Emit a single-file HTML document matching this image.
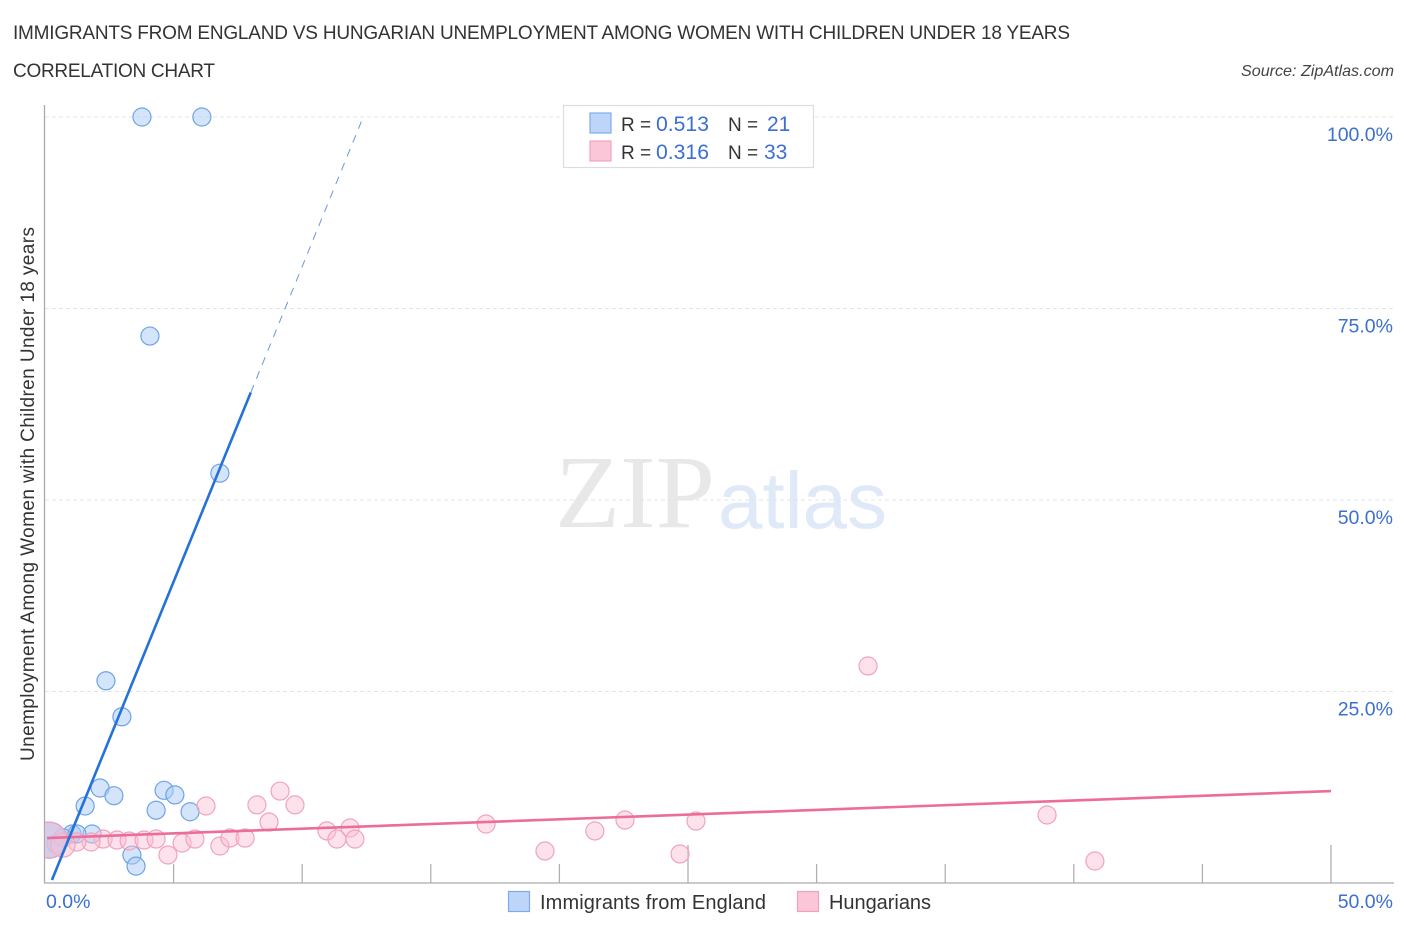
<!DOCTYPE html>
<html lang="en">
<head>
<meta charset="utf-8">
<title>Immigrants from England vs Hungarian Unemployment Correlation Chart</title>
<style>
html,body{margin:0;padding:0;background:#fff;}
body{width:1406px;height:930px;overflow:hidden;}
svg{display:block;font-family:"Liberation Sans",sans-serif;}
</style>
</head>
<body>
<svg id="chart" width="1406" height="930" viewBox="0 0 1406 930" xmlns="http://www.w3.org/2000/svg">
  <defs>
    <clipPath id="plot-clip"><rect x="45" y="100" width="1350" height="783"/></clipPath>
  </defs>
  <rect x="0" y="0" width="1406" height="930" fill="#ffffff"/>

  <text x="13" y="39" font-size="19" fill="#333333" textLength="1057" lengthAdjust="spacing">IMMIGRANTS FROM ENGLAND VS HUNGARIAN UNEMPLOYMENT AMONG WOMEN WITH CHILDREN UNDER 18 YEARS</text>
  <text x="13" y="77" font-size="19" fill="#333333" textLength="202" lengthAdjust="spacing">CORRELATION CHART</text>
  <text x="1241" y="76" font-size="16" font-style="italic" fill="#444444" textLength="153" lengthAdjust="spacingAndGlyphs">Source: ZipAtlas.com</text>

  <g>
    <text x="555" y="527" font-family="'Liberation Serif',serif" font-size="104" fill="#e8e8e8" textLength="160" lengthAdjust="spacingAndGlyphs">ZIP</text>
    <text x="718" y="528" font-size="80" fill="#dfe9f8" textLength="169" lengthAdjust="spacingAndGlyphs">atlas</text>
  </g>

  <g id="grid"></g>
  <g id="axes"></g>
  <g id="points" clip-path="url(#plot-clip)"></g>
  <g id="trends"></g>
  <g id="labels"></g>

  <text transform="translate(34,761) rotate(-90)" font-size="19" fill="#333333" textLength="534" lengthAdjust="spacing">Unemployment Among Women with Children Under 18 years</text>

  <g>
    <rect x="563.5" y="105.5" width="250" height="62" fill="#ffffff" stroke="#dddddd" stroke-width="1.2"/>
    <rect x="590" y="113" width="21" height="20" fill="#bcd5f9" stroke="#7fabe8" stroke-width="1.2"/>
    <text x="621" y="131" font-size="19" fill="#333333">R =</text>
    <text x="656" y="131" font-size="21" fill="#3b6fd0" textLength="53" lengthAdjust="spacingAndGlyphs">0.513</text>
    <text x="728" y="131" font-size="19" fill="#333333">N =</text>
    <text x="767" y="131" font-size="21" fill="#3b6fd0">21</text>
    <rect x="590" y="141" width="21" height="20" fill="#fbc6d8" stroke="#f0a3bd" stroke-width="1.2"/>
    <text x="621" y="159" font-size="19" fill="#333333">R =</text>
    <text x="656" y="159" font-size="21" fill="#3b6fd0" textLength="53" lengthAdjust="spacingAndGlyphs">0.316</text>
    <text x="728" y="159" font-size="19" fill="#333333">N =</text>
    <text x="764" y="159" font-size="21" fill="#3b6fd0">33</text>
  </g>

  <g>
    <rect x="508.5" y="891.5" width="21" height="20" fill="#bcd5f9" stroke="#7fabe8" stroke-width="1.2"/>
    <text x="540" y="909" font-size="20" fill="#333333" textLength="226" lengthAdjust="spacing">Immigrants from England</text>
    <rect x="797.5" y="891.5" width="21" height="20" fill="#fbc6d8" stroke="#f0a3bd" stroke-width="1.2"/>
    <text x="829" y="909" font-size="20" fill="#333333" textLength="102" lengthAdjust="spacing">Hungarians</text>
  </g>
</svg>

<script>
var yTickValues = [25, 50, 75, 100];
var yTickLabels = ['25.0%', '50.0%', '75.0%', '100.0%'];
var xTickValues = [0, 5, 10, 15, 20, 25, 30, 35, 40, 45, 50];
var xEndValues = [0, 50];
var xEndLabels = ['0.0%', '50.0%'];

var englandX = [3.77, 6.10, 4.08, 6.80, 2.37, 2.99, 2.14, 2.68, 1.56, 4.63, 5.05, 4.32, 5.64, 1.83, 1.05, 3.38, 3.54, 0.43, 0.70, 1.24, 0.16];
var englandY = [100, 100, 71.4, 53.5, 26.4, 21.7, 12.4, 11.4, 10.05, 12.1, 11.5, 9.5, 9.3, 6.4, 6.4, 3.65, 2.2, 5.1, 5.9, 6.4, 5.6];
var englandWeight = [1, 1, 1, 1, 1, 1, 1, 1, 1, 1, 1, 1, 1, 1, 1, 1, 1, 1, 1, 1, 4];

var hungarianX = [6.26, 8.24, 9.14, 9.72, 8.71, 10.96, 11.35, 11.86, 12.05, 2.26, 2.80, 3.27, 3.85, 4.32, 4.78, 5.33, 5.83, 6.80, 7.19, 7.78, 1.79, 1.24, 0.70, 17.15, 19.44, 21.38, 22.55, 24.69, 25.31, 32.0, 38.96, 40.82, 0.16];
var hungarianY = [10.05, 10.2, 12.0, 10.2, 7.96, 6.8, 5.74, 7.18, 5.74, 5.74, 5.61, 5.48, 5.61, 5.74, 3.66, 5.22, 5.74, 4.83, 5.87, 5.87, 5.35, 5.35, 4.96, 7.7, 4.18, 6.79, 8.22, 3.79, 8.09, 28.33, 8.88, 2.87, 5.6];
var hungarianWeight = [1, 1, 1, 1, 1, 1, 1, 1, 1, 1, 1, 1, 1, 1, 1, 1, 1, 1, 1, 1, 1, 1, 1.8, 1, 1, 1, 1, 1, 1, 1, 1, 1, 4];

var englandTrendX = [0.27, 8.0];
var englandTrendY = [0.39, 64.03];
var englandDashX = [8.0, 12.3];
var englandDashY = [64.03, 99.4];
var hungarianTrendX = [0.08, 50];
var hungarianTrendY = [5.87, 12.0];

var NS = 'http://www.w3.org/2000/svg';
function xScale(v) { return 45 + v * 25.72; }
function yScale(v) { return 883 - v * 7.66; }
function make(tag, parent, attrs) {
  var el = document.createElementNS(NS, tag);
  for (var k in attrs) { el.setAttribute(k, attrs[k]); }
  parent.appendChild(el);
  return el;
}

var grid = document.getElementById('grid');
var axes = document.getElementById('axes');
var points = document.getElementById('points');
var trends = document.getElementById('trends');
var labels = document.getElementById('labels');

yTickValues.forEach(function (v, i) {
  var line = make('line', grid, { x1: 45, x2: 1393, y1: yScale(v), y2: yScale(v), stroke: '#e4e4e4', 'stroke-width': 1, 'stroke-dasharray': '4 3' });
  
  
  var t = make('text', labels, { x: 1393, y: yScale(v) + 24, 'text-anchor': 'end', 'font-size': 19.5, fill: '#3b6fd0' });
  t.textContent = yTickLabels[i];
  
  
});

var yAxis = make('line', axes, { x1: 44.5, x2: 44.5, y1: 105, y2: 883, stroke: '#aaaaaa', 'stroke-width': 1.3 });


var xAxis = make('line', axes, { x1: 44, x2: 1394, y1: 883, y2: 883, stroke: '#b8b8b8', 'stroke-width': 1.6 });



xTickValues.forEach(function (v) {
  if (v === 0) { return; }
  var major = (v === 25 || v === 50);
  var tick = make('line', axes, { x1: xScale(v), x2: xScale(v), y1: major ? 845 : 864, y2: 883, stroke: '#b0b0b0', 'stroke-width': 1.3 });
  
  
});

xEndValues.forEach(function (v, i) {
  var t = make('text', labels, { x: i === 0 ? xScale(v) + 1 : xScale(v) + 62, y: 908, 'text-anchor': i === 0 ? 'start' : 'end', 'font-size': 19.5, fill: '#3b6fd0' });
  t.textContent = xEndLabels[i];
  
  
});

englandX.forEach(function (x, i) {
  var heavy = englandWeight[i] > 2;
  var c = make('circle', points, { cx: xScale(x), cy: yScale(englandY[i]), r: 9 * Math.sqrt(englandWeight[i]), fill: heavy ? 'rgba(170,203,247,0.8)' : 'rgba(170,203,247,0.5)', stroke: '#6ea3e6', 'stroke-width': 1.2 });
  
  
});

hungarianX.forEach(function (x, i) {
  var c = make('circle', points, { cx: xScale(x), cy: yScale(hungarianY[i]), r: 9 * Math.sqrt(hungarianWeight[i]), fill: 'rgba(250,190,210,0.45)', stroke: '#f0a3bd', 'stroke-width': 1.2 });
  
  
});

var pinkLine = make('line', trends, { x1: xScale(hungarianTrendX[0]), y1: yScale(hungarianTrendY[0]), x2: xScale(hungarianTrendX[1]), y2: yScale(hungarianTrendY[1]), stroke: '#ec6c9b', 'stroke-width': 2.6 });



var blueLine = make('line', trends, { x1: xScale(englandTrendX[0]), y1: yScale(englandTrendY[0]), x2: xScale(englandTrendX[1]), y2: yScale(englandTrendY[1]), stroke: '#2472d8', 'stroke-width': 2.6 });



var blueDash = make('line', trends, { x1: xScale(englandDashX[0]), y1: yScale(englandDashY[0]), x2: xScale(englandDashX[1]), y2: yScale(englandDashY[1]), stroke: '#6f94dc', 'stroke-width': 1, 'stroke-dasharray': '8 7' });


</script>
</body>
</html>
